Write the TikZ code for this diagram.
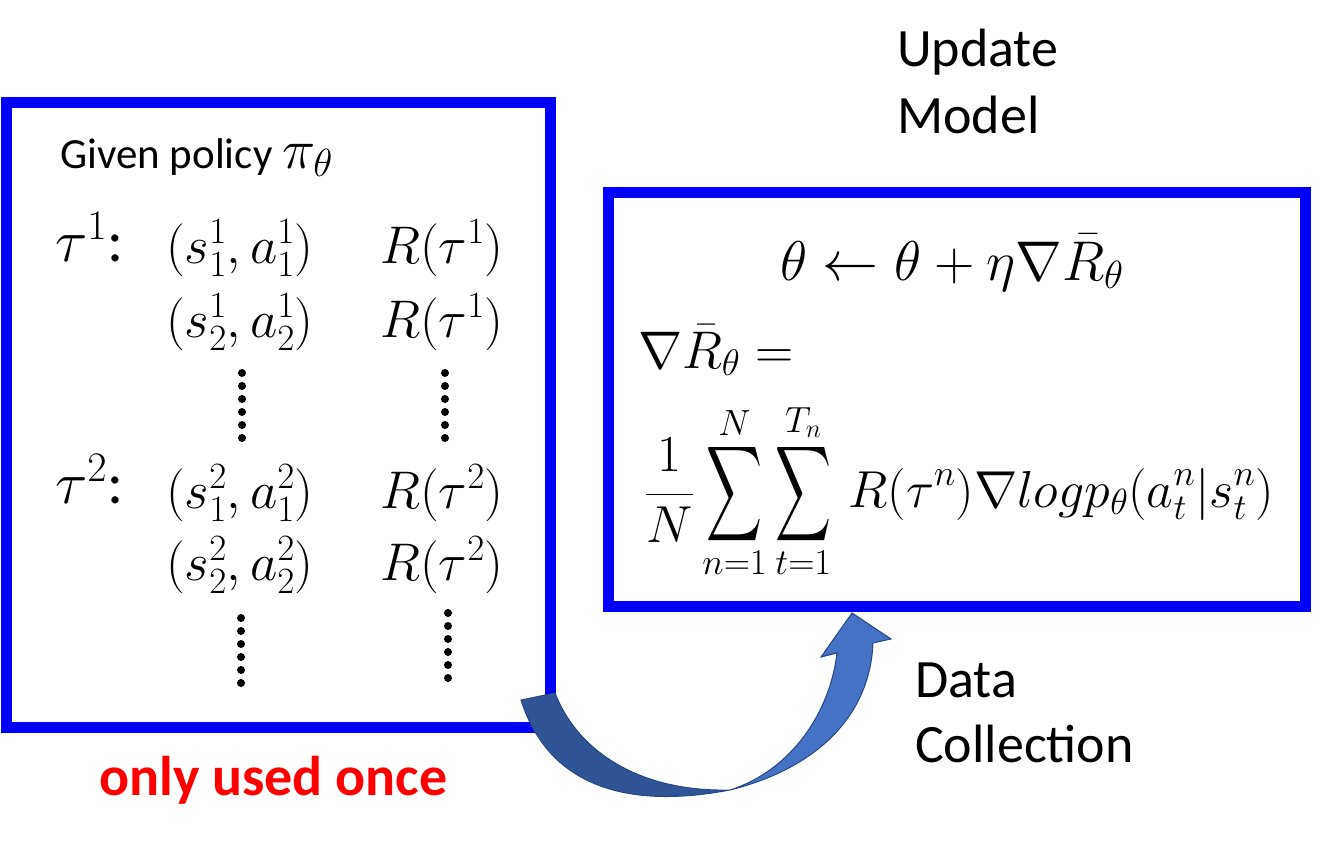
\RequirePackage{fix-cm}
\documentclass[tikz,border=0pt]{standalone}
\usepackage{amsmath}
\usepackage{graphicx}
\usepackage{fontspec}
\setmainfont{Carlito}
\definecolor{boxblue}{RGB}{0,0,255}
\definecolor{arrdark}{RGB}{47,85,151}
\definecolor{arrlight}{RGB}{68,114,196}
\definecolor{arredge}{RGB}{40,70,130}
\definecolor{redtxt}{RGB}{255,0,0}
\newcommand{\bigsumop}{\mathop{\vcenter{\hbox{\resizebox{56pt}{88pt}{$\displaystyle\sum$}}}}\limits}
\tikzset{
  panel/.style={draw=boxblue, line width=11pt, fill=white, inner sep=0pt},
  lbl/.style={anchor=base west, inner sep=0pt, font=\fontsize{54}{64}\selectfont},
  small/.style={anchor=base west, inner sep=0pt, font=\fontsize{43}{50}\selectfont},
  mth/.style={anchor=base west, inner sep=0pt, font=\fontsize{53}{62}\selectfont},
  tau/.style={anchor=base west, inner sep=0pt, font=\fontsize{60}{70}\selectfont},
  dotmark/.style={fill=black, draw=none}
}
\newcommand{\vdotcol}[2]{% x, ytop
  \foreach \k in {0,...,5}{\fill[dotmark] (#1,#2+13*\k) circle (4);}
}
\begin{document}
\begin{tikzpicture}[x=1pt,y=-1pt]
\useasboundingbox (0,0) rectangle (1330,856);
% boxes
\node[panel, minimum width=544pt, minimum height=624pt] (leftbox) at (278,415) {};
\node[panel, minimum width=697pt, minimum height=414pt] (rightbox) at (956.5,399) {};
% titles
\node[lbl] (upd) at (897,67) {Update};
\node[lbl] (mdl) at (897,133) {Model};
\node[lbl] (data) at (915,697) {Data};
\node[lbl] (coll) at (915,762) {Collection};
\node[lbl, text=redtxt, font=\fontsize{56}{66}\selectfont\bfseries] (once) at (99,795) {only used once};
% left box content
\node[small] (given) at (60,168) {Given policy {\fontsize{56}{64}\selectfont$\pi_\theta$}};
\node[tau] (t1) at (55,261) {$\tau^1$:};
\node[mth] (p11) at (166,263) {$(s_1^1,a_1^1)$};
\node[mth] (r11) at (380,263) {$R(\tau^1)$};
\node[mth] (p12) at (166,337) {$(s_2^1,a_2^1)$};
\node[mth] (r12) at (380,337) {$R(\tau^1)$};
\node[tau] (t2) at (55,503) {$\tau^2$:};
\node[mth] (p21) at (166,508) {$(s_1^2,a_1^2)$};
\node[mth] (r21) at (380,508) {$R(\tau^2)$};
\node[mth] (p22) at (166,580) {$(s_2^2,a_2^2)$};
\node[mth] (r22) at (380,580) {$R(\tau^2)$};
\vdotcol{242}{373}
\vdotcol{445}{373}
\vdotcol{241}{618}
\vdotcol{448}{613}
% right box content
\node[mth, anchor=base, font=\fontsize{56}{66}\selectfont] (upd eq) at (952,280) {$\theta \leftarrow \theta + \eta\nabla\bar{R}_\theta$};
\node[mth] (grad) at (638,368) {$\nabla\bar{R}_\theta =$};
\node[mth, font=\fontsize{52}{60}\selectfont] (sum) at (645,507) {$\displaystyle \frac{1}{N}\bigsumop_{n=1}^{N}\bigsumop_{t=1}^{T_n}\, R(\tau^n)\nabla log p_\theta(a_t^n|s_t^n)$};
% curved arrow
\coordinate (tailA) at (521,700);
\coordinate (tailB) at (555,693);
\coordinate (pinch) at (730,790);
\coordinate (shR) at (873,643);
\coordinate (hdR) at (891,639);
\coordinate (tip) at (852,613);
\coordinate (hdL) at (821,657);
\coordinate (shL) at (837,653);
\fill[arrdark, draw=arredge, line width=1pt] (tailA) .. controls (548,785) and (625,810) .. (pinch)
   .. controls (640,792) and (578,752) .. (tailB) -- cycle;
\fill[arrlight, draw=arredge, line width=1pt] (pinch) .. controls (818,768) and (870,715) .. (shR)
   -- (hdR) -- (tip) -- (hdL) -- (shL) .. controls (830,712) and (792,770) .. (pinch) -- cycle;
\end{tikzpicture}
\end{document}
